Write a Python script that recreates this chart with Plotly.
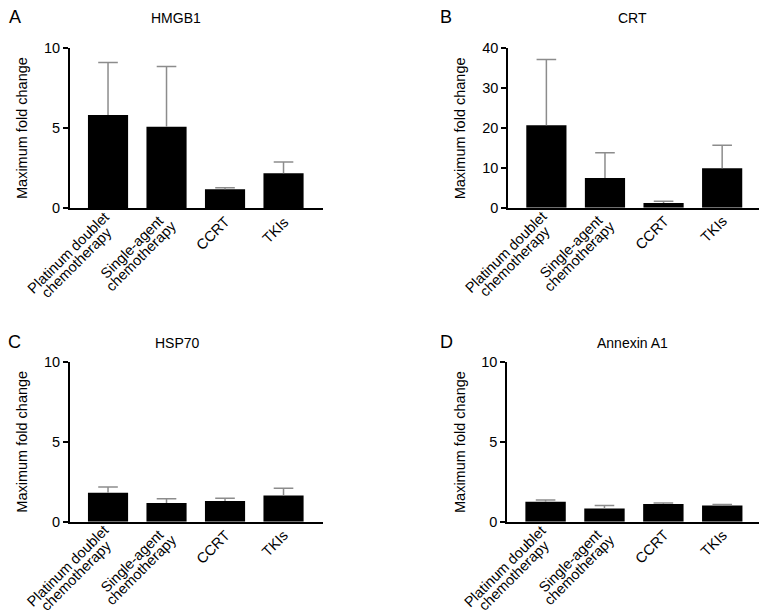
import math
import plotly.graph_objects as go

categories = ["Platinum doublet chemotherapy", "Single-agent chemotherapy", "CCRT", "TKIs"]
category_lines = [["Platinum doublet", "chemotherapy"], ["Single-agent", "chemotherapy"],
                  ["CCRT"], ["TKIs"]]

hmgb1_mean = [5.81, 5.08, 1.17, 2.17]
hmgb1_err = [3.29, 3.77, 0.10, 0.70]
crt_mean = [20.7, 7.45, 1.18, 9.9]
crt_err = [16.5, 6.35, 0.42, 5.8]
hsp70_mean = [1.81, 1.17, 1.29, 1.63]
hsp70_err = [0.36, 0.27, 0.17, 0.46]
anx_mean = [1.25, 0.83, 1.10, 1.02]
anx_err = [0.10, 0.19, 0.07, 0.06]

panel_titles = ["HMGB1", "CRT", "HSP70", "Annexin A1"]
panel_letters = ["A", "B", "C", "D"]
y_ticks = [[0, 5, 10], [0, 10, 20, 30, 40], [0, 5, 10], [0, 5, 10]]
y_ranges = [[0, 10], [0, 40], [0, 10], [0, 10]]

# the page body has an 8px margin; the figure fills the rest of the window
OFF = 8
W, H = 767 - OFF, 616 - OFF
FONT = "Liberation Sans, Arial, Helvetica, sans-serif"
ERR_COLOR = "#8c8c8c"
TICK_FONT = 14.5
LINE_H = 13

# pixel layout (window pixels) of each plot area: (left, right, top, bottom)
boxes = [(70, 323.3, 48, 208), (508.3, 762, 48.3, 207.7),
         (70, 323.3, 361.7, 521.7), (507.3, 762.3, 361.7, 521.7)]
title_pos = [(176, 17.5), (632, 17.5), (177, 343), (632, 343)]
letter_pos = [(15, 17), (446, 17), (14, 341.5), (446, 341.5)]

data = [(hmgb1_mean, hmgb1_err), (crt_mean, crt_err),
        (hsp70_mean, hsp70_err), (anx_mean, anx_err)]

# Arial / Liberation Sans advance widths (em)
CW = {"P": .667, "l": .222, "a": .556, "t": .278, "i": .222, "n": .556, "u": .556,
      "m": .833, " ": .278, "d": .556, "o": .556, "b": .556, "e": .556, "c": .5,
      "h": .556, "r": .333, "p": .556, "y": .5, "S": .667, "g": .556, "-": .333,
      "C": .722, "R": .722, "T": .611, "K": .667, "I": .278, "s": .5}


def text_w(s, size):
    return sum(CW.get(ch, .556) for ch in s) * size


def px(x):
    return (x - OFF) / W


def py(y):
    return 1 - (y - OFF) / H


fig = go.Figure()
layout = dict(width=W, height=H, margin=dict(l=0, r=0, t=0, b=0, autoexpand=False),
              paper_bgcolor="white", plot_bgcolor="white", showlegend=False,
              barmode="overlay", font=dict(family=FONT, size=14, color="black"))
annotations = []
c45 = math.sqrt(0.5)

for i, ((mean, err), box) in enumerate(zip(data, boxes)):
    n = "" if i == 0 else str(i + 1)
    xa, ya = "x" + n, "y" + n
    left, right, top, bottom = box
    upper = [m + e for m, e in zip(mean, err)]

    fig.add_trace(go.Bar(x=categories, y=mean, xaxis=xa, yaxis=ya,
                         marker=dict(color="black", line=dict(width=0)),
                         width=0.686, hoverinfo="skip"))
    # whiskers (upper error only)
    wx, wy = [], []
    for c, m, u in zip(categories, mean, upper):
        wx += [c, c, None]
        wy += [m, u, None]
    fig.add_trace(go.Scatter(x=wx, y=wy, xaxis=xa, yaxis=ya, mode="lines",
                             line=dict(color=ERR_COLOR, width=1.5), hoverinfo="skip"))
    # caps
    fig.add_trace(go.Scatter(x=categories, y=upper, xaxis=xa, yaxis=ya, mode="markers",
                             marker=dict(symbol="line-ew", size=14,
                                         line=dict(color=ERR_COLOR, width=1.5)),
                             hoverinfo="skip"))

    layout["xaxis" + n] = dict(domain=[px(left), px(right)], anchor=ya,
                               range=[-0.65, 3.68], showline=True, linewidth=2,
                               linecolor="black", ticks="", showticklabels=False,
                               showgrid=False, zeroline=False, automargin=False)
    layout["yaxis" + n] = dict(domain=[py(bottom), py(top)], anchor=xa,
                               range=y_ranges[i], tickvals=y_ticks[i],
                               showline=True, linewidth=2, linecolor="black",
                               ticks="outside", ticklen=5, tickwidth=2, tickcolor="black",
                               showgrid=False, zeroline=False, automargin=False,
                               tickfont=dict(size=14.5, color="black"))

    # rotated, centre-aligned category labels (block end anchored near the tick)
    for cat, lines in zip(categories, category_lines):
        lmax = max(text_w(s, TICK_FONT) for s in lines)
        ex, ey = 2.5, 11.0  # block end-middle relative to tick / axis line
        cx0 = ex - (lmax / 2) * c45
        cy0 = ey + (lmax / 2) * c45
        nl = len(lines)
        for k, s in enumerate(lines):
            off = (k - (nl - 1) / 2) * LINE_H
            cx = cx0 + off * c45
            cy = cy0 + off * c45
            annotations.append(dict(text=s, xref=xa, x=cat, yref="paper", y=py(bottom),
                                    xshift=cx, yshift=-cy, textangle=-45,
                                    showarrow=False, xanchor="center", yanchor="middle",
                                    font=dict(size=TICK_FONT, family=FONT, color="black")))

    # panel title
    tx, ty = title_pos[i]
    annotations.append(dict(text=panel_titles[i], xref="paper", yref="paper",
                            x=px(tx), y=py(ty), showarrow=False,
                            xanchor="center", yanchor="middle",
                            font=dict(size=14, family=FONT, color="black")))
    # panel letter
    lx, ly = letter_pos[i]
    annotations.append(dict(text=panel_letters[i], xref="paper", yref="paper",
                            x=px(lx), y=py(ly), showarrow=False,
                            xanchor="center", yanchor="middle",
                            font=dict(size=18, family=FONT, color="black")))
    # y-axis title
    annotations.append(dict(text="Maximum fold change", xref="paper", yref="paper",
                            x=px(left - 48), y=py((top + bottom) / 2),
                            showarrow=False, textangle=-90,
                            xanchor="center", yanchor="middle",
                            font=dict(size=14.5, family=FONT, color="black")))

layout["annotations"] = annotations
fig.update_layout(**layout)
fig.write_html("out.html")
